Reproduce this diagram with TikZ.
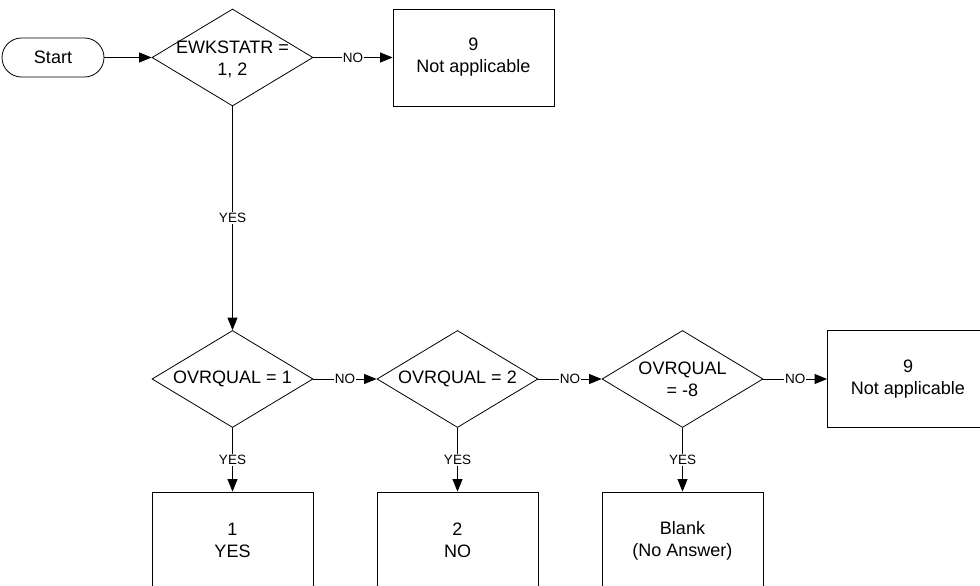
\documentclass[tikz,border=0pt]{standalone}
\usepackage{fontspec}
\setmainfont{Liberation Sans}
\usetikzlibrary{shapes.geometric,arrows.meta}
\begin{document}
\begin{tikzpicture}[x=1pt,y=-1pt,
  every node/.style={font=\fontsize{18}{22}\selectfont},
  dia/.style={draw, line width=0.8pt, diamond, minimum width=161pt, minimum height=97pt, inner sep=0pt},
  box/.style={draw, line width=0.8pt, rectangle, minimum width=161pt, minimum height=97pt, align=center, inner sep=0pt},
  term/.style={draw, line width=0.8pt, rectangle, rounded corners=19.5pt, minimum width=102pt, minimum height=39pt, inner sep=0pt},
  arr/.style={draw, line width=0.8pt, -{Triangle[length=12.5pt,width=10pt]}},
  lab/.style={fill=white, inner sep=1pt, font=\fontsize{13.5}{15}\selectfont}
]
\useasboundingbox (0,0) rectangle (980,586);
\clip (0,0) rectangle (980,586);
\node[term] (start) at (53,57.5) {Start};
\node[dia, label={[align=center, yshift=-1.5pt]center:EWKSTATR =\\1, 2}] (d1) at (232.5,57.5) {};
\node[box] (na1) at (473.5,57.5) {9\\Not applicable};
\node[dia, label={[align=center]center:OVRQUAL = 1}] (d2) at (232.5,379) {};
\node[dia, label={[align=center]center:OVRQUAL = 2}] (d3) at (457.5,379) {};
\node[dia, label={[align=center]center:OVRQUAL\\= -8}] (d4) at (682.5,379) {};
\node[box] (na2) at (908,379) {9\\Not applicable};
\node[box] (b1) at (232.5,540.5) {1\\YES};
\node[box] (b2) at (457.5,540.5) {2\\NO};
\node[box] (b3) at (682.5,540.5) {Blank\\(No Answer)};

\draw[arr] (start.east) -- (d1.west);
\draw[arr] (d1.east) -- node[lab]{NO} (na1.west);
\draw[arr] (d1.south) -- node[lab]{YES} (d2.north);
\draw[arr] (d2.east) -- node[lab]{NO} (d3.west);
\draw[arr] (d3.east) -- node[lab]{NO} (d4.west);
\draw[arr] (d4.east) -- node[lab]{NO} (na2.west);
\draw[arr] (d2.south) -- node[lab]{YES} (b1.north);
\draw[arr] (d3.south) -- node[lab]{YES} (b2.north);
\draw[arr] (d4.south) -- node[lab]{YES} (b3.north);
\end{tikzpicture}
\end{document}
